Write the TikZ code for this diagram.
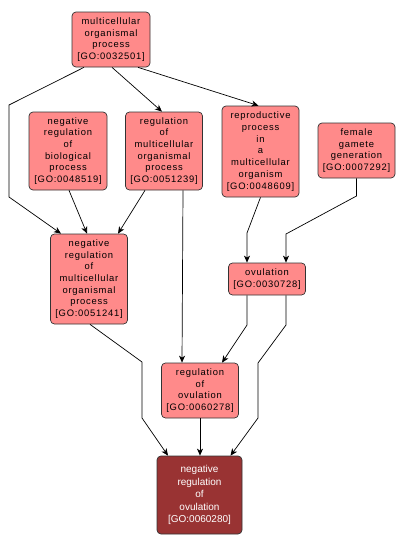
\documentclass[tikz,border=0pt]{standalone}
\usepackage{fontspec}
\newfontfamily\gofont[LetterSpace=8]{Liberation Sans}
\newfontfamily\goleaffont{Liberation Sans}
\usetikzlibrary{arrows.meta}
\definecolor{gofill}{HTML}{FF8A8A}
\definecolor{godark}{HTML}{993333}
\begin{document}
\begin{tikzpicture}[x=1pt,y=-1pt,
  goterm/.style={draw=black!80, line width=0.7pt, rounded corners=4pt, fill=gofill,
    align=center, inner sep=0pt, font=\gofont\fontsize{9.4}{11.7}\selectfont, text=black},
  goleaf/.style={goterm, fill=godark, text=white, font=\goleaffont\fontsize{10}{12.5}\selectfont},
  edge/.style={draw=black, line width=0.7pt, -{Stealth[length=7pt,width=6pt,inset=2pt]}}]
\useasboundingbox (0,0) rectangle (405,549);
\node[goterm, minimum width=78pt, minimum height=55pt] (A) at (111,39.5) {multicellular\\organismal\\process\\{[}GO:0032501{]}};
\node[goterm, minimum width=78pt, minimum height=78pt] (B) at (68,151) {negative\\regulation\\of\\biological\\process\\{[}GO:0048519{]}};
\node[goterm, minimum width=77pt, minimum height=78pt] (C) at (164,151) {regulation\\of\\multicellular\\organismal\\process\\{[}GO:0051239{]}};
\node[goterm, minimum width=77pt, minimum height=91pt] (D) at (260.5,151.5) {reproductive\\process\\in\\a\\multicellular\\organism\\{[}GO:0048609{]}};
\node[goterm, minimum width=77pt, minimum height=55pt] (E) at (356.5,150.5) {female\\gamete\\generation\\{[}GO:0007292{]}};
\node[goterm, minimum width=77pt, minimum height=90pt] (F) at (89,279) {negative\\regulation\\of\\multicellular\\organismal\\process\\{[}GO:0051241{]}};
\node[goterm, minimum width=77pt, minimum height=32pt] (G) at (267,279) {ovulation\\{[}GO:0030728{]}};
\node[goterm, minimum width=77pt, minimum height=55pt] (H) at (200,390.5) {regulation\\of\\ovulation\\{[}GO:0060278{]}};
\node[goleaf, minimum width=85pt, minimum height=78pt] (I) at (199.5,495) {negative\\regulation\\of\\ovulation\\{[}GO:0060280{]}};
% edges
\draw[edge] ([xshift=-27pt]A.south) -- (9,105) -- (9,197) -- ([xshift=-28pt]F.north);
\draw[edge] ([xshift=1pt]A.south) -- ([xshift=-2pt]C.north);
\draw[edge] ([xshift=27pt]A.south) -- ([xshift=-2pt]D.north);
\draw[edge] ([xshift=1pt]B.south) -- ([xshift=-2pt]F.north);
\draw[edge] ([xshift=-19pt]C.south) -- ([xshift=29pt]F.north);
\draw[edge] ([xshift=19pt]C.south) -- ([xshift=-18pt]H.north);
\draw[edge] (D.south) -- (247,233) -- ([xshift=-20pt]G.north);
\draw[edge] (E.south) -- (356.5,196) -- (286,234) -- ([xshift=19pt]G.north);
\draw[edge] ([xshift=-20pt]G.south) -- (247,325) -- ([xshift=22pt]H.north);
\draw[edge] ([xshift=19pt]G.south) -- (286,325) -- (258,363) -- (258,418) -- ([xshift=31pt]I.north);
\draw[edge] ([xshift=1pt]F.south) -- (142,362) -- (142,418) -- ([xshift=-31.5pt]I.north);
\draw[edge] (H.south) -- ([xshift=0.5pt]I.north);
\end{tikzpicture}
\end{document}
